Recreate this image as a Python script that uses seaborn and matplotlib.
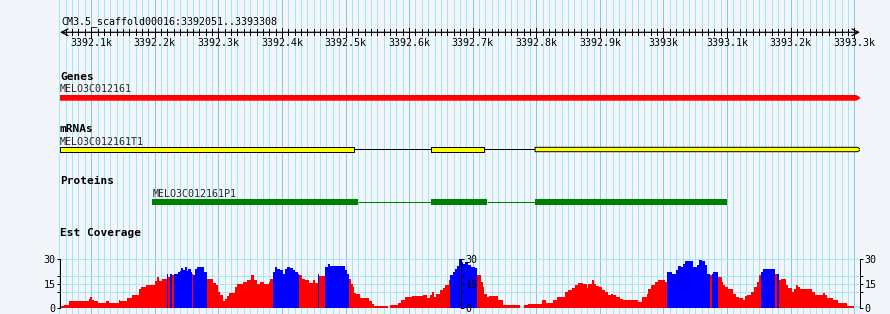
import numpy as np
import pandas as pd
import matplotlib
matplotlib.use("Agg")
import matplotlib.pyplot as plt
import seaborn as sns

# ------------------------------------------------------------------ data
ref_name = "CM3.5_scaffold00016"
view_start = 3392051
view_end = 3393308

ruler_major = [3392100, 3392200, 3392300, 3392400, 3392500, 3392600, 3392700,
               3392800, 3392900, 3393000, 3393100, 3393200, 3393300]
ruler_labels = ["3392.1k", "3392.2k", "3392.3k", "3392.4k", "3392.5k", "3392.6k",
                "3392.7k", "3392.8k", "3392.9k", "3393k", "3393.1k", "3393.2k", "3393.3k"]

gene_name = "MELO3C012161"
gene_start, gene_end = 3392051, 3393308

mrna_name = "MELO3C012161T1"
mrna_exon_starts = [3392051, 3392634, 3392798]
mrna_exon_ends = [3392514, 3392717, 3393308]

protein_name = "MELO3C012161P1"
cds_starts = [3392196, 3392634, 3392798]
cds_ends = [3392519, 3392722, 3393100]

# EST coverage as a step function: segment start (bp offset from view_start) and depth
cov_offset = [0, 6, 14, 45, 47, 50, 54, 60, 72, 77, 92, 95, 105, 113, 124, 128, 136, 142, 149, 152, 155, 161,
              168, 170, 173, 176, 179, 185, 188, 190, 194, 197, 199, 202, 206, 208, 209, 212, 215, 227,
              231, 241, 246, 249, 252, 256, 260, 262, 265, 275, 278, 288, 294, 301, 305, 309, 315, 321, 328, 331,
              335, 338, 342, 346, 351, 354, 357, 362, 367, 370, 375,
              376, 380, 385, 392, 398, 401,
              406, 408,
              417, 422, 425, 448, 452,
              455, 457, 460, 462, 465, 471, 486, 490, 493, 516, 519, 532, 537, 542, 553, 571, 577, 582, 585, 588,
              592, 598, 602, 605, 611,
              614, 618, 621, 624, 627, 630, 634, 637, 642, 647, 653,
              655, 662, 665, 667, 671, 675, 689, 697, 708, 723, 729, 736, 758, 764, 776, 781, 794, 799, 805, 810,
              815, 823, 828, 831, 836, 839, 843, 847, 852, 857, 862, 866, 870, 875, 881, 886, 909, 915, 923, 925,
              930, 936, 941, 951,
              955, 962, 969, 972, 976, 979, 983, 996, 1001, 1005, 1009, 1014, 1018,
              1022, 1025, 1027,
              1035, 1041, 1043, 1046, 1051, 1059, 1063, 1067, 1074, 1077, 1081, 1086, 1091, 1096, 1099,
              1102, 1106, 1117,
              1124, 1127,
              1131, 1133, 1142, 1145, 1151, 1154, 1157, 1160, 1164, 1182, 1187, 1192, 1200, 1203, 1206, 1216,
              1224, 1237]
cov_last_end = 1248
cov_value = [1.5, 2.0, 4.3, 5.7, 6.8, 5.1, 4.3, 3.3, 4.3, 3.3, 5.1, 4.3, 6.2, 8.2, 11.5, 12.7, 14.0, 14.2, 16.4,
             18.9, 16.4, 17.7,
             21.0, 19.3, 21.0, 20.5, 21.0, 22.0, 22.8, 24.5, 23.5, 25.0, 22.5, 23.8, 22.0, 21.0, 20.5, 23.8, 25.3,
             22.2,
             17.7, 15.6, 14.0, 9.9, 7.8, 4.5, 5.5, 7.2, 9.2, 13.0, 14.6, 16.0, 17.0, 20.1, 17.0, 14.6, 16.0, 15.0,
             16.0, 18.0,
             22.2, 25.3, 24.2, 23.2, 21.2, 24.2, 25.3, 24.9, 23.2, 22.2, 21.2,
             20.5, 18.0, 17.0, 15.6, 17.0, 15.6,
             21.0, 19.7,
             25.3, 26.9, 25.9, 23.2, 21.2,
             18.0, 15.0, 12.9, 9.5, 8.8, 6.2, 4.1, 2.7, 1.4, 0.0, 2.0, 3.3, 5.1, 6.8, 7.2, 8.2, 6.2, 7.8, 9.9, 6.8,
             8.8, 10.9, 12.3, 14.0, 17.0,
             20.1, 22.0, 24.0, 26.0, 30.0, 28.4, 27.3, 28.4, 26.3, 25.3, 24.7,
             20.1, 16.0, 12.9, 8.8, 6.8, 7.2, 5.1, 2.0, 1.6, 0.0, 2.0, 2.5, 4.7, 3.3, 4.7, 6.8, 9.9, 10.9, 12.3,
             14.4, 15.6, 14.6, 12.3, 14.6, 17.3, 14.6, 13.4, 12.9, 10.9, 9.9, 7.8, 8.4, 7.8, 6.8, 5.8, 4.7, 3.7,
             6.8, 8.8, 11.5, 14.0, 16.0, 17.3, 16.0,
             22.2, 21.2, 23.2, 25.9, 25.3, 27.3, 28.8, 25.3, 26.7, 29.4, 28.8, 26.3, 21.2,
             20.1, 21.2, 22.2,
             19.1, 16.0, 14.0, 12.9, 11.5, 8.8, 6.8, 6.4, 5.1, 7.2, 8.2, 9.9, 12.9, 16.0, 20.1,
             22.2, 23.8, 24.2,
             21.2, 21.2,
             17.0, 18.0, 14.0, 12.5, 9.9, 11.5, 14.0, 12.9, 11.5, 9.9, 7.8, 8.2, 9.4, 8.2, 6.2, 4.7, 3.3, 1.4]
# bp-offset intervals drawn in the "high" (blue) colour
cov_high_runs = [(168, 170), (173, 176), (179, 208), (209, 231), (335, 376), (406, 408), (417, 455),
                 (614, 655), (955, 1022), (1025, 1035), (1102, 1124), (1127, 1131)]
cov_ticks = [0, 15, 30]
cov_minor_ticks = [10, 20]

# ------------------------------------------------------------------ style
sns.set_theme(style="white")
plt.rcParams["font.family"] = ["DejaVu Sans Mono", "DejaVu Sans"]
BG = "#f2f6fa"
GRID_MINOR = "#a6e8ef"
GRID_MAJOR = "#8cc6e6"
FS = 7.2
FSB = 8.0
LW = 0.72

W, H = 890, 314
fig = plt.figure(figsize=(W / 100, H / 100), dpi=100, facecolor=BG)
X0, X1 = view_start, view_start + 1258
L, WD = 60 / W, 800 / W

# background / feature axes: x = genome position, y = pixel row (layout)
ax = fig.add_axes([L, 0, WD, 1])
ax.set_xlim(X0, X1)
ax.set_ylim(H, 0)
ax.axis("off")

grid = np.arange(3392050, 3393301, 10)
ax.vlines(grid[grid % 100 != 0], 0, H, colors=GRID_MINOR, lw=LW, clip_on=False, zorder=0,
          antialiased=False)
ax.vlines(grid[grid % 100 == 0], 0, H, colors=GRID_MAJOR, lw=LW, clip_on=False, zorder=0,
          antialiased=False)

# title + ruler
ax.text(0.0015, 24, f"{ref_name}:{view_start}..{view_end}", transform=ax.get_yaxis_transform(),
        fontsize=FS, va="baseline", ha="left", color="black")
ax.annotate("", xy=(X0, 32.3), xytext=(X1, 32.3),
            arrowprops=dict(arrowstyle="<->", lw=0.9, color="black", shrinkA=0, shrinkB=0),
            annotation_clip=False)
rt = np.arange(3392060, 3393301, 10)
ax.vlines(rt[rt % 100 != 0], 29.3, 35.2, colors="black", lw=LW, antialiased=False)
ax.vlines(ruler_major, 28.3, 36.7, colors="black", lw=LW, antialiased=False)
for p, lab in zip(ruler_major, ruler_labels):
    ax.text(p, 46, lab, ha="center", va="baseline", fontsize=FS, color="black")


def track_label(y, s):
    ax.text(0, y, s, transform=ax.get_yaxis_transform(), fontsize=FSB, fontweight="bold",
            va="baseline", ha="left", color="black")


def feature(x0, x1, yc, h, fc, ec="none", lw=0, arrow=0):
    if arrow:
        xs = [x0, x1 - arrow, x1, x1 - arrow, x0]
        ys = [yc - h / 2, yc - h / 2, yc, yc + h / 2, yc + h / 2]
    else:
        xs = [x0, x1, x1, x0]
        ys = [yc - h / 2, yc - h / 2, yc + h / 2, yc + h / 2]
    ax.fill(xs, ys, fc=fc, ec=ec, lw=lw, zorder=3)


# Genes
track_label(80, "Genes")
ax.text(gene_start, 91.7, gene_name, fontsize=FS, va="baseline", ha="left")
feature(gene_start, gene_end + 3, 97.85, 5.7, "#ff0000", arrow=8)

# mRNAs
track_label(131.7, "mRNAs")
ax.text(mrna_exon_starts[0], 145, mrna_name, fontsize=FS, va="baseline", ha="left")
n_int = len(mrna_exon_starts) - 1
ax.hlines([149.4] * n_int, mrna_exon_ends[:-1], mrna_exon_starts[1:], colors="black", lw=LW, zorder=2)
for i, (s, e) in enumerate(zip(mrna_exon_starts, mrna_exon_ends)):
    last = i == len(mrna_exon_starts) - 1
    feature(s, e + (3 if last else 0), 149.5, 4.4, "#ffff00", ec="black", lw=LW, arrow=6 if last else 0)

# Proteins
track_label(184, "Proteins")
ax.text(cds_starts[0], 196.7, protein_name, fontsize=FS, va="baseline", ha="left")
n_int = len(cds_starts) - 1
ax.hlines([201.6] * n_int, cds_ends[:-1], cds_starts[1:], colors="#008000", lw=LW, zorder=2)
for s, e in zip(cds_starts, cds_ends):
    feature(s, e, 202.1, 5.7, "#008000")

# EST coverage
track_label(236, "Est Coverage")
axc = fig.add_axes([L, (H - 308) / H, WD, 48.7 / H])
axc.patch.set_alpha(0)
edges = [view_start + o for o in cov_offset + [cov_last_end]]
mids = [(a + b) / 2 for a, b in zip(edges[:-1], edges[1:])]
cls = ["high" if any(a <= o < b for a, b in cov_high_runs) else "low" for o in cov_offset]
df = pd.DataFrame({"pos": mids, "cov": cov_value, "cls": cls})
sns.histplot(data=df, x="pos", weights="cov", bins=edges, hue="cls",
             palette={"low": "#ff0000", "high": "#0000ff"}, multiple="layer", element="bars",
             alpha=1, linewidth=0, legend=False, antialiased=False, ax=axc, zorder=2)
axc.set_xlim(X0, X1)
axc.set_ylim(0, 30)
axc.set_xlabel("")
axc.set_ylabel("")
for yv in [10, 15, 20, 30]:
    axc.axhline(yv, color=GRID_MINOR, lw=LW, zorder=0.5, antialiased=False)
axc.axhline(0, color=GRID_MINOR, lw=1.5, zorder=0.5, antialiased=False)
for sp in ["top", "bottom"]:
    axc.spines[sp].set_visible(False)
for sp in ["left", "right"]:
    axc.spines[sp].set_visible(True)
    axc.spines[sp].set_color("black")
    axc.spines[sp].set_linewidth(LW)
axc.set_xticks([])
axc.set_yticks(cov_ticks)
axc.set_yticks(cov_minor_ticks, minor=True)
axc.set_yticklabels([str(t) for t in cov_ticks])
axc.tick_params(axis="y", which="both", direction="out", length=2.4, width=LW, colors="black",
                labelsize=FS, pad=0.8, left=True, right=True, labelleft=True, labelright=True)

mid = axc.secondary_yaxis(0.5016)
mid.set_zorder(10)
mid.set_yticks(cov_ticks)
mid.set_yticks(cov_minor_ticks, minor=True)
mid.set_yticklabels([str(t) for t in cov_ticks])
mid.tick_params(axis="y", which="both", direction="out", length=2.4, width=LW, colors="black",
                labelsize=FS, pad=0.8)
for sp in mid.spines.values():
    sp.set_linewidth(LW)
    sp.set_color("black")

fig.savefig("out.png", dpi=100, facecolor=BG)
